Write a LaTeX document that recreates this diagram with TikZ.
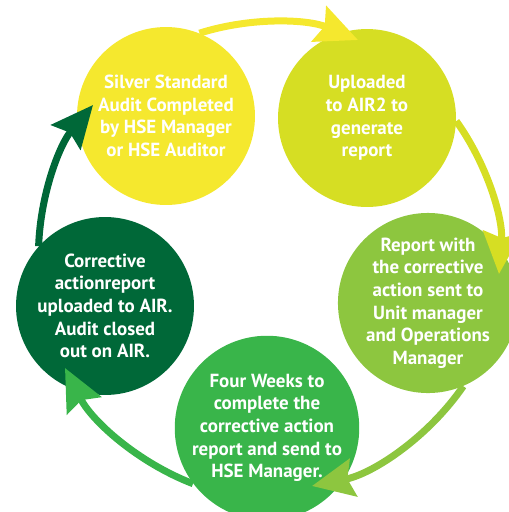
\documentclass[tikz,border=0pt]{standalone}
\usepackage{fontspec}
\setmainfont{PT Sans}
\usetikzlibrary{arrows.meta}

\definecolor{auditcol}{HTML}{F5E82E}
\definecolor{uploadcol}{HTML}{D6DE23}
\definecolor{reportcol}{HTML}{8DC63F}
\definecolor{weekscol}{HTML}{39B54A}
\definecolor{closedcol}{HTML}{006838}

\begin{document}
\begin{tikzpicture}[x=0.02cm,y=0.02cm,
    stage/.style={circle,minimum size=3.56cm,inner sep=0pt,align=center,text=white,
      font=\bfseries\fontsize{10.8}{12.9}\selectfont},
    flow/.style={line width=0.14cm,looseness=0.88,
      -{Stealth[length=0.84cm,width=0.76cm,inset=0.12cm]}}]
        \useasboundingbox (0,0) rectangle (509,-512);
        % the five steps
        \node[stage,fill=auditcol] (audit) at (166,-116) {Silver Standard\\Audit Completed\\by HSE Manager\\or HSE Auditor};
        \node[stage,fill=uploadcol] (upload) at (367,-118) {Uploaded\\to AIR2 to\\generate\\report};
        \node[stage,fill=reportcol] (report) at (428,-303) {Report with\\the corrective\\action sent to\\Unit manager\\and Operations\\Manager};
        \node[stage,fill=weekscol] (weeks) at (267,-428) {Four Weeks to\\complete the\\corrective action\\report and send to\\HSE Manager.};
        \node[stage,fill=closedcol] (closed) at (105,-306) {Corrective\\actionreport\\uploaded to AIR.\\Audit closed\\out on AIR.};
        % arrow tips
        \coordinate (tipone) at (358,-40);
        \coordinate (tiptwo) at (499,-274);
        \coordinate (tipthree) at (312,-486);
        \coordinate (tipfour) at (65,-368);
        \coordinate (tipfive) at (93,-105);
        \draw[flow,auditcol] (audit.68) to[bend left=20] (tipone);
        \draw[flow,uploadcol] (upload.-2) to[bend left=20] (tiptwo);
        \draw[flow,reportcol] (report.-67) to[bend left=22] (tipthree);
        \draw[flow,weekscol] (weeks.217) to[bend left=21] (tipfour);
        \draw[flow,closedcol] (closed.138) to[bend left=19] (tipfive);
        % \draw[dotted] (267,-254) circle[radius=232];
      \end{tikzpicture}
\end{document}
